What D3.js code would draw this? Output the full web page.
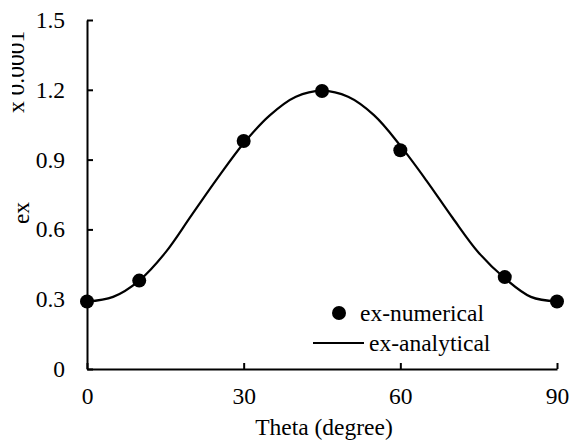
<!DOCTYPE html>
<html><head><meta charset="utf-8">
<script src="https://cdn.jsdelivr.net/npm/d3@7"></script>
<style>body{margin:0;background:#fff}svg{display:block}text{font-family:"Liberation Serif","Times New Roman",serif;fill:#000}</style>
</head><body><svg id="c" width="572" height="446"></svg>
<script>
const numTheta = [0, 10, 30, 45, 60, 80, 90];
const numEx = [0.29, 0.38, 0.98, 1.195, 0.94, 0.395, 0.29];
const anaTheta = [0, 5, 10, 15, 20, 25, 30, 35, 40, 45, 50, 55, 60, 65, 70, 75, 80, 85, 90];
const anaEx = [0.29, 0.31, 0.38, 0.50, 0.66, 0.82, 0.97, 1.09, 1.17, 1.195, 1.17, 1.09, 0.96, 0.81, 0.65, 0.50, 0.39, 0.31, 0.29];
const xTicks = [0, 30, 60, 90];
const yTicks = [0, 0.3, 0.6, 0.9, 1.2, 1.5];
const yTickLabels = ["0", "0.3", "0.6", "0.9", "1.2", "1.5"];

const svg = d3.select("#c");
const x = d3.scaleLinear().domain([0, 90]).range([87, 557]);
const y = d3.scaleLinear().domain([0, 1.5]).range([369, 20]);
const fs = 23.5;

const xAxis = svg.append("g").attr("transform", `translate(0,${y(0)})`)
  .call(d3.axisBottom(x).tickValues(xTicks).tickSizeInner(-6).tickSizeOuter(0).tickPadding(18).tickFormat(d3.format("d")));
const yAxis = svg.append("g").attr("transform", `translate(${x(0)},0)`)
  .call(d3.axisLeft(y).tickValues(yTicks).tickSizeInner(-6).tickSizeOuter(0).tickPadding(22).tickFormat((d,i)=>yTickLabels[i]));
[xAxis, yAxis].forEach(g => {
  g.selectAll("path,line").attr("stroke", "#000").attr("stroke-width", 2);
  g.selectAll("text").attr("font-size", fs).attr("font-family", '"Liberation Serif",serif').attr("fill", "#000");
});

const ana = anaTheta.map((t, i) => [t, anaEx[i]]);
svg.append("path").datum(ana)
  .attr("d", d3.line().x(d => x(d[0])).y(d => y(d[1])).curve(d3.curveCatmullRom))
  .attr("fill", "none").attr("stroke", "#000").attr("stroke-width", 2.2);

svg.append("g").selectAll("circle").data(numTheta.map((t, i) => [t, numEx[i]])).join("circle")
  .attr("cx", d => x(d[0])).attr("cy", d => y(d[1])).attr("r", 7).attr("fill", "#000");

// legend
svg.append("circle").attr("cx", 339).attr("cy", 313).attr("r", 7).attr("fill", "#000");
svg.append("text").attr("x", 360).attr("y", 313).attr("dy", "0.33em").attr("font-size", fs).text("ex-numerical");
svg.append("line").attr("x1", 313).attr("x2", 364).attr("y1", 343).attr("y2", 343).attr("stroke", "#000").attr("stroke-width", 2.2);
svg.append("text").attr("x", 369).attr("y", 343).attr("dy", "0.33em").attr("font-size", fs).text("ex-analytical");

// axis titles
svg.append("text").attr("x", 324).attr("y", 435).attr("text-anchor", "middle").attr("font-size", fs).text("Theta (degree)");
svg.append("text").attr("transform", "translate(29,213) rotate(-90)").attr("text-anchor", "middle").attr("font-size", fs).text("ex");
svg.append("clipPath").attr("id", "clipUnit").append("rect").attr("x", 12).attr("y", 0).attr("width", 40).attr("height", 200);
svg.append("g").attr("clip-path", "url(#clipUnit)")
  .append("text").attr("transform", "translate(24,113) rotate(-90)").attr("text-anchor", "start").attr("font-size", fs).text("x 0.0001");
</script></body></html>
